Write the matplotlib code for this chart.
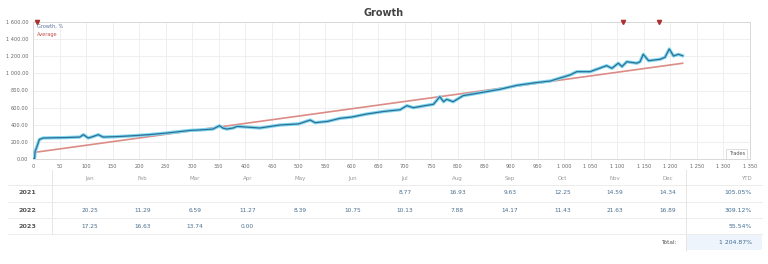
import matplotlib.pyplot as plt
from matplotlib.patches import Rectangle

# Dati della curva di crescita (trades, %)
trades = [0, 3, 4, 6, 12, 19, 40, 60, 88, 95, 104, 113, 123, 132, 160, 189, 220,
          251, 296, 314, 339, 351, 358, 365, 377, 384, 427, 465, 500, 522, 531,
          555, 578, 600, 628, 660, 691, 704, 716, 740, 754, 766, 773, 779, 791,
          810, 836, 879, 911, 945, 974, 1011, 1024, 1049, 1080, 1090, 1102,
          1109, 1118, 1137, 1143, 1149, 1159, 1181, 1190, 1198, 1206, 1215, 1223]
growth = [0, 8, 90, 120, 228, 245, 248, 250, 256, 284, 245, 262, 284, 256, 262,
          272, 285, 303, 334, 339, 350, 389, 360, 350, 362, 381, 362, 397, 410,
          455, 424, 440, 475, 490, 525, 555, 575, 623, 599, 625, 639, 728, 669,
          697, 669, 740, 767, 814, 860, 890, 911, 981, 1020, 1020, 1090, 1059,
          1119, 1079, 1136, 1119, 1136, 1223, 1148, 1165, 1188, 1285, 1203,
          1223, 1206]

# Linea media
avg_trades = [0, 1223]
avg_growth = [75, 1118]

# Marcatori in alto
marker_trades = [8, 1111, 1179]

x_ticks = list(range(0, 1351, 50))
y_ticks = list(range(0, 1601, 200))

# Tabella mensile
months = ["Jan", "Feb", "Mar", "Apr", "May", "Jun",
          "Jul", "Aug", "Sep", "Oct", "Nov", "Dec"]
years = ["2021", "2022", "2023"]
vals_2021 = ["", "", "", "", "", "", "8.77", "16.93", "9.63", "12.25", "14.59", "14.34"]
vals_2022 = ["20.25", "11.29", "6.59", "11.27", "8.39", "10.75",
             "10.13", "7.88", "14.17", "11.43", "21.63", "16.89"]
vals_2023 = ["17.25", "16.63", "13.74", "0.00", "", "", "", "", "", "", "", ""]
ytd = ["105.05%", "309.12%", "55.54%"]
total = "1 204.87%"


def fmt_thousands(v, dec=0):
    s = f"{v:,.{dec}f}"
    return s.replace(",", " ")


fig = plt.figure(figsize=(7.68, 2.64), dpi=100, facecolor='white')
W, H = 768, 264

# Assi principali del grafico
ax = fig.add_axes([33 / W, 1 - 159 / H, (750 - 33) / W, (159 - 22) / H])
ax.set_xlim(0, 1350)
ax.set_ylim(0, 1600)
ax.set_xticks(x_ticks)
ax.set_xticklabels([fmt_thousands(v) for v in x_ticks])
ax.set_yticks(y_ticks)
ax.set_yticklabels([fmt_thousands(v, 2) for v in y_ticks])
ax.tick_params(labelsize=3.6, colors='#666666', length=0, pad=3.5)
ax.grid(True, color='#ededed', linewidth=0.6)
for s in ax.spines.values():
    s.set_color('#d8d8d8')
    s.set_linewidth(0.7)

ax.plot(avg_trades, avg_growth, color='#dc8c86', linewidth=1.2, zorder=3)
ax.plot(trades, growth, color='#7fd8f0', linewidth=2.4, zorder=4,
        solid_joinstyle='round')
ax.plot(trades, growth, color='#2f6f96', linewidth=0.9, zorder=5,
        solid_joinstyle='round')
ax.plot(marker_trades, [1600] * len(marker_trades), linestyle='none',
        marker='v', markersize=3, color='#b03030', clip_on=False, zorder=6)

ax.text(0.006, 0.985, "Growth, %", transform=ax.transAxes, fontsize=3.6,
        color='#5a6f9a', va='top', ha='left')
ax.text(0.006, 0.925, "Average", transform=ax.transAxes, fontsize=3.6,
        color='#c0504d', va='top', ha='left')
ax.text(0.993, 0.02, "Trades", transform=ax.transAxes, fontsize=3.6,
        color='#555555', va='bottom', ha='right',
        bbox=dict(boxstyle='square,pad=0.5', fc='white', ec='#d0d0d0', lw=0.5))

fig.text(0.5, 1 - 13 / H, "Growth", ha='center', va='center',
         fontsize=7, fontweight='bold', color='#444444')

# Asse di sfondo per la tabella (coordinate in pixel)
tab = fig.add_axes([0, 0, 1, 1])
tab.set_xlim(0, W)
tab.set_ylim(H, 0)
tab.axis('off')

month_x = [90 + 52.5 * i for i in range(12)]
row_y = [193, 210, 226]
line_y = [184.5, 201.5, 218, 234]

for ly in line_y:
    tab.plot([8, 762], [ly, ly], color='#ececec', linewidth=0.7)
tab.plot([52, 52], [170, 234], color='#e6e6e6', linewidth=0.7)
tab.plot([686, 686], [170, 251], color='#e6e6e6', linewidth=0.7)
tab.add_patch(Rectangle((686, 234), 76, 16, facecolor='#eef4fb', edgecolor='none'))

for mx, m in zip(month_x, months):
    tab.text(mx, 178.5, m, ha='center', va='center', fontsize=4, color='#999999')
tab.text(752, 178.5, "YTD", ha='right', va='center', fontsize=4, color='#999999')

rows = [vals_2021, vals_2022, vals_2023]
for ry, yr, vals, yt in zip(row_y, years, rows, ytd):
    tab.text(27, ry, yr, ha='center', va='center', fontsize=4.6,
             fontweight='bold', color='#555555')
    for mx, v in zip(month_x, vals):
        if v:
            tab.text(mx, ry, v, ha='center', va='center', fontsize=4.2,
                     color='#4a6f8f')
    tab.text(752, ry, yt, ha='right', va='center', fontsize=4.4,
             color='#3f6c94')

tab.text(677, 242, "Total:", ha='right', va='center', fontsize=4.2,
         color='#555555')
tab.text(752, 242, total, ha='right', va='center', fontsize=4.4,
         color='#3f6c94')

plt.savefig("out.png", dpi=100, facecolor='white')
